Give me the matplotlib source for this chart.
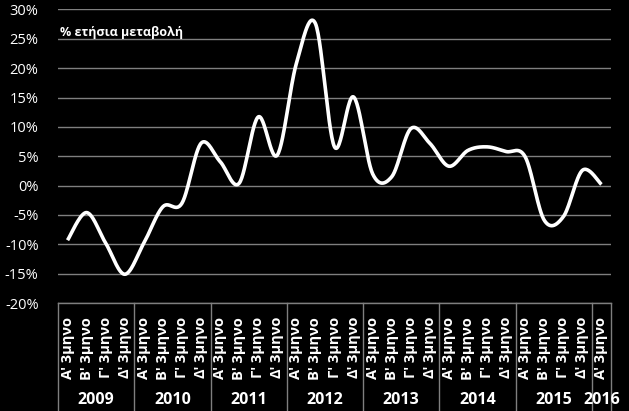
import numpy as np
import matplotlib
matplotlib.use("Agg")
import matplotlib.pyplot as plt
from matplotlib.ticker import FuncFormatter

# quarterly annual % change, 2009 Q1 .. 2016 Q1
years = ["2009", "2010", "2011", "2012", "2013", "2014", "2015", "2016"]
quarters = ["Α' 3μηνο", "Β' 3μηνο", "Γ' 3μηνο", "Δ' 3μηνο"]
values = [-9.3, -4.6, -9.8, -15.1,
          -9.8, -3.6, -3.0, 7.2,
          4.1, 0.4, 11.7, 5.2,
          20.8, 27.6, 6.6, 15.1,
          2.0, 1.5, 9.7, 7.2,
          3.3, 6.0, 6.6, 5.8,
          4.9, -5.9, -5.3, 2.6,
          0.2]
labels = [quarters[i % 4] for i in range(len(values))]
year_counts = [4, 4, 4, 4, 4, 4, 4, 1]


def smooth(xs, ys, n=30):
    # Excel-like smoothed line (Catmull-Rom as cubic Bezier)
    p = np.column_stack([xs, ys]).astype(float)
    p = np.vstack([p[0], p, p[-1]])
    t = np.linspace(0, 1, n)[:, None]
    out = []
    for i in range(1, len(p) - 2):
        b0 = p[i]
        b1 = p[i] + (p[i + 1] - p[i - 1]) / 6
        b2 = p[i + 1] - (p[i + 2] - p[i]) / 6
        b3 = p[i + 1]
        seg = ((1 - t) ** 3) * b0 + 3 * ((1 - t) ** 2) * t * b1 \
            + 3 * (1 - t) * t ** 2 * b2 + t ** 3 * b3
        out.append(seg)
    out = np.vstack(out)
    return out[:, 0], out[:, 1]


plt.rcParams['font.family'] = ['Open Sans', 'DejaVu Sans']

fig = plt.figure(figsize=(6.29, 4.11), dpi=100, facecolor='black')
ax = fig.add_axes([58 / 629, 108 / 411, 553 / 629, 293.5 / 411])
ax.set_facecolor('black')

x = np.arange(len(values))
sx, sy = smooth(x, values)
ax.plot(sx, sy, color='white', lw=2.6, solid_capstyle='butt', zorder=3)

ax.set_xlim(-0.5, len(values) - 0.5)
ax.set_ylim(-20, 30)
ax.set_yticks(np.arange(-20, 31, 5))
ax.yaxis.set_major_formatter(FuncFormatter(lambda v, _: f"{v:.0f}%"))
ax.grid(axis='y', color='#7f7f7f', lw=1)
ax.set_axisbelow(True)
for s in ax.spines.values():
    s.set_visible(False)
ax.tick_params(axis='y', length=0, colors='white', labelsize=10.5, pad=14)

ax.set_xticks(x)
ax.set_xticklabels(labels, rotation=90, color='white', fontsize=10.5,
                   fontweight='bold', va='top')
ax.tick_params(axis='x', length=0, pad=10)

# category box lines under the axis
trans = ax.get_xaxis_transform()
ax.plot([-0.5, len(values) - 0.5], [0, 0], color='#7f7f7f', lw=1,
        transform=trans, clip_on=False)
edges = np.concatenate([[0], np.cumsum(year_counts)]) - 0.5
y_bot = -108 / 293.5
for e in edges:
    ax.plot([e, e], [0, y_bot], color='#7f7f7f', lw=1, transform=trans,
            clip_on=False)
for i, yr in enumerate(years):
    mid = (edges[i] + edges[i + 1]) / 2
    ax.text(mid, -97 / 293.5, yr, transform=trans, ha='center', va='center',
            color='white', fontsize=11.5, fontweight='bold')

ax.text(0.003, 0.92, "% ετήσια μεταβολή", transform=ax.transAxes,
        color='white', fontsize=9, fontweight='bold', va='center', ha='left')

fig.savefig("out.png", dpi=100, facecolor='black')
